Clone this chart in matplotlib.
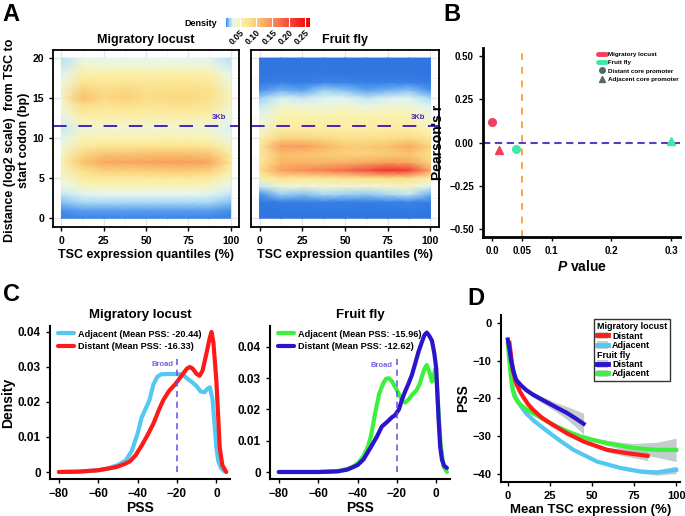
import numpy as np
import matplotlib
matplotlib.use('Agg')
import matplotlib.pyplot as plt
from matplotlib.colors import LinearSegmentedColormap, Normalize
from matplotlib.lines import Line2D
from matplotlib.patches import Patch

plt.rcParams['font.family'] = ['Liberation Sans', 'DejaVu Sans']
plt.rcParams['font.weight'] = 'bold'
plt.rcParams['axes.labelweight'] = 'bold'
plt.rcParams['axes.titleweight'] = 'bold'
plt.rcParams['mathtext.fontset'] = 'custom'
plt.rcParams['mathtext.bfit'] = 'Liberation Sans:bold:italic'
plt.rcParams['mathtext.rm'] = 'Liberation Sans:bold'

# ---------------- data ----------------
# panel A: density grid, rows = log2 distance 0..20, cols = expression quantile
heat_x = [0, 12.5, 25, 37.5, 50, 62.5, 75, 87.5, 100]
heat_y = list(range(21))

locust_density = [
    [0.006, 0.008, 0.008, 0.008, 0.008, 0.008, 0.008, 0.008, 0.006],
    [0.010, 0.012, 0.012, 0.012, 0.012, 0.012, 0.012, 0.012, 0.010],
    [0.016, 0.020, 0.020, 0.020, 0.020, 0.020, 0.020, 0.020, 0.016],
    [0.024, 0.030, 0.031, 0.031, 0.031, 0.031, 0.031, 0.030, 0.024],
    [0.032, 0.045, 0.047, 0.047, 0.047, 0.047, 0.047, 0.045, 0.032],
    [0.040, 0.060, 0.065, 0.065, 0.066, 0.066, 0.066, 0.062, 0.042],
    [0.045, 0.080, 0.095, 0.095, 0.098, 0.100, 0.100, 0.095, 0.055],
    [0.050, 0.105, 0.128, 0.130, 0.132, 0.135, 0.136, 0.130, 0.070],
    [0.045, 0.090, 0.105, 0.105, 0.108, 0.110, 0.110, 0.105, 0.060],
    [0.038, 0.065, 0.072, 0.072, 0.073, 0.074, 0.074, 0.070, 0.045],
    [0.030, 0.048, 0.050, 0.050, 0.050, 0.050, 0.050, 0.048, 0.034],
    [0.025, 0.040, 0.040, 0.040, 0.040, 0.040, 0.040, 0.038, 0.028],
    [0.028, 0.046, 0.045, 0.045, 0.045, 0.045, 0.045, 0.043, 0.030],
    [0.035, 0.062, 0.058, 0.060, 0.058, 0.060, 0.060, 0.056, 0.036],
    [0.040, 0.080, 0.072, 0.076, 0.072, 0.074, 0.075, 0.070, 0.042],
    [0.045, 0.108, 0.085, 0.095, 0.082, 0.085, 0.086, 0.080, 0.046],
    [0.042, 0.095, 0.082, 0.088, 0.080, 0.082, 0.082, 0.078, 0.044],
    [0.036, 0.072, 0.068, 0.070, 0.068, 0.070, 0.070, 0.066, 0.038],
    [0.030, 0.055, 0.054, 0.055, 0.054, 0.055, 0.055, 0.052, 0.032],
    [0.025, 0.042, 0.040, 0.040, 0.040, 0.040, 0.040, 0.038, 0.026],
    [0.022, 0.034, 0.032, 0.032, 0.032, 0.032, 0.032, 0.030, 0.022],
]

fly_density = [
    [0.003, 0.003, 0.003, 0.003, 0.003, 0.003, 0.003, 0.003, 0.003],
    [0.003, 0.004, 0.004, 0.004, 0.005, 0.004, 0.004, 0.005, 0.004],
    [0.004, 0.006, 0.006, 0.007, 0.006, 0.006, 0.007, 0.008, 0.006],
    [0.010, 0.018, 0.016, 0.020, 0.018, 0.017, 0.020, 0.024, 0.014],
    [0.025, 0.040, 0.038, 0.040, 0.040, 0.040, 0.042, 0.045, 0.030],
    [0.050, 0.075, 0.070, 0.072, 0.075, 0.078, 0.080, 0.080, 0.055],
    [0.080, 0.135, 0.150, 0.160, 0.175, 0.195, 0.220, 0.210, 0.130],
    [0.065, 0.115, 0.120, 0.118, 0.120, 0.125, 0.135, 0.130, 0.090],
    [0.060, 0.110, 0.105, 0.100, 0.095, 0.095, 0.098, 0.105, 0.080],
    [0.065, 0.135, 0.138, 0.120, 0.100, 0.100, 0.108, 0.128, 0.090],
    [0.050, 0.090, 0.090, 0.085, 0.078, 0.078, 0.080, 0.085, 0.065],
    [0.040, 0.065, 0.065, 0.062, 0.060, 0.060, 0.062, 0.062, 0.050],
    [0.035, 0.055, 0.055, 0.056, 0.055, 0.055, 0.056, 0.055, 0.042],
    [0.030, 0.050, 0.050, 0.048, 0.050, 0.048, 0.050, 0.048, 0.036],
    [0.025, 0.040, 0.038, 0.036, 0.040, 0.036, 0.040, 0.038, 0.030],
    [0.018, 0.028, 0.025, 0.030, 0.030, 0.024, 0.028, 0.030, 0.020],
    [0.010, 0.014, 0.012, 0.018, 0.016, 0.012, 0.014, 0.016, 0.010],
    [0.005, 0.007, 0.006, 0.008, 0.008, 0.006, 0.007, 0.007, 0.005],
    [0.003, 0.004, 0.004, 0.005, 0.004, 0.004, 0.004, 0.004, 0.003],
    [0.003, 0.003, 0.003, 0.003, 0.003, 0.003, 0.003, 0.003, 0.003],
    [0.003, 0.003, 0.003, 0.003, 0.003, 0.003, 0.003, 0.003, 0.003],
]

# panel B: correlation vs p value
b_p = [0.0, 0.0117, 0.0405, 0.300]
b_r = [0.118, -0.043, -0.039, 0.010]
b_species = ["Migratory locust", "Migratory locust", "Fruit fly", "Fruit fly"]
b_promoter = ["Distant", "Adjacent", "Distant", "Adjacent"]

# panel C: PSS density curves
loc_adj_x = [-80, -70, -60, -55, -50, -46, -43, -40, -38, -36, -34, -32, -30, -28, -24, -20,
             -17, -15, -12, -10, -8, -6, -4.5, -3.3, -2, -1, 0, 1, 2.5, 4]
loc_adj_y = [0, 0.0001, 0.0005, 0.001, 0.002, 0.0033, 0.006, 0.011, 0.0155, 0.018, 0.0205,
             0.025, 0.0272, 0.0279, 0.028, 0.028, 0.0278, 0.0268, 0.0255, 0.0245, 0.023,
             0.0228, 0.0238, 0.0242, 0.021, 0.014, 0.007, 0.003, 0.001, 0.0002]
loc_dist_x = [-80, -70, -60, -55, -51, -47, -44, -41, -38, -35, -32, -29, -27, -24, -21, -19,
              -17, -15, -13.5, -12, -10, -8.5, -7, -5, -3.5, -2.5, -1.5, 0, 1, 1.7, 3, 5]
loc_dist_y = [0, 0.0001, 0.0005, 0.001, 0.0014, 0.0022, 0.003, 0.0048, 0.0075, 0.0105,
              0.0138, 0.018, 0.0205, 0.0232, 0.025, 0.0265, 0.028, 0.0295, 0.030, 0.0295,
              0.028, 0.0275, 0.029, 0.034, 0.038, 0.040, 0.037, 0.026, 0.015, 0.007, 0.002, 0]
fly_adj_x = [-80, -60, -50, -45, -42, -39.7, -37, -34.6, -33, -31, -29, -27, -25.5, -24,
             -22.5, -21, -19, -17.5, -15.8, -14, -12.4, -10, -8.5, -7.3, -6, -4.8, -3.5,
             -2.2, -1.2, -0.5, 0.3, 1.2, 2.2, 3.7, 5.4]
fly_adj_y = [0, 0, 0.0003, 0.001, 0.0018, 0.0029, 0.005, 0.0082, 0.012, 0.019, 0.025,
             0.0283, 0.0298, 0.030, 0.029, 0.0273, 0.025, 0.023, 0.0222, 0.0232, 0.0246,
             0.0262, 0.028, 0.0305, 0.033, 0.0342, 0.032, 0.0289, 0.031, 0.033, 0.028,
             0.0188, 0.009, 0.0018, 0]
fly_dist_x = [-80, -60, -50, -45, -40, -37, -33, -30, -27.7, -25, -22.5, -20.9, -19, -17.5,
              -15.8, -14.1, -12.4, -10.7, -9, -7.3, -6, -4.8, -3.5, -2.2, -1, 0, 0.5, 1.2,
              2, 2.9, 4, 5.4]
fly_dist_y = [0, 0, 0.0002, 0.0008, 0.0022, 0.004, 0.0082, 0.0115, 0.0145, 0.016, 0.0175,
              0.0182, 0.020, 0.023, 0.0258, 0.0283, 0.031, 0.0347, 0.0385, 0.0416, 0.0438,
              0.0446, 0.0435, 0.042, 0.038, 0.033, 0.026, 0.0167, 0.008, 0.0039, 0.002, 0.0013]
loc_adj_mean, loc_dist_mean = -20.44, -16.33
fly_adj_mean, fly_dist_mean = -15.96, -12.62

# panel D: smoothed PSS vs mean expression, with CI half widths
d_loc_dist_x = [1, 2, 3, 5, 7, 9, 12, 15, 20, 25, 35, 45, 59, 71, 83]
d_loc_dist_y = [-5.3, -9, -12.5, -16, -18, -19.5, -21.5, -23, -25, -26.5, -29.2, -31.4,
                -33.6, -34.5, -35.2]
d_loc_dist_ci = [0.5, 0.4, 0.4, 0.3, 0.3, 0.3, 0.3, 0.3, 0.3, 0.3, 0.3, 0.4, 0.6, 0.9, 1.2]
d_loc_adj_x = [0.5, 1.5, 3, 5, 8, 11, 15, 20, 25, 32, 39, 53, 67, 78.5, 88.5, 100]
d_loc_adj_y = [-5.5, -11, -17.8, -20, -22.2, -24, -25.7, -27.5, -29.2, -31.5, -33.6, -36.7,
               -38.4, -39.3, -39.6, -38.9]
d_loc_adj_ci = [0.5, 0.4, 0.3, 0.3, 0.3, 0.3, 0.3, 0.3, 0.3, 0.3, 0.3, 0.3, 0.4, 0.5, 0.7, 1.0]
d_fly_dist_x = [0, 1, 2, 3.5, 5, 8, 11, 15, 19, 24, 29, 35, 40, 45]
d_fly_dist_y = [-4.4, -7, -10, -13, -15.1, -16.6, -17.8, -19, -20, -21.2, -22.4, -23.8,
                -25.2, -26.7]
d_fly_dist_ci = [0.5, 0.5, 0.5, 0.5, 0.5, 0.5, 0.6, 0.7, 0.8, 1.0, 1.2, 1.7, 2.2, 2.8]
d_fly_adj_x = [0, 1, 2, 3, 4, 6, 9, 13, 17, 23, 29, 36, 43, 51, 59, 67, 74.5, 88.5, 100]
d_fly_adj_y = [-5.5, -10.5, -15, -17.8, -19.5, -21, -22.2, -23.4, -24.4, -26, -27.4, -28.8,
               -30, -31, -31.8, -32.5, -33.1, -33.6, -33.6]
d_fly_adj_ci = [0.6, 0.5, 0.4, 0.4, 0.4, 0.3, 0.3, 0.3, 0.3, 0.3, 0.3, 0.3, 0.4, 0.5, 0.7,
                0.9, 1.2, 2.0, 3.1]

# ---------------- styling ----------------
RED = '#ff1a1a'
CYAN = '#55c8f2'
BLUE = '#2a14cc'
GREEN = '#3ef03e'
B_RED = '#f2405a'
B_MINT = '#3ee8a6'
B_GRAY = '#55666b'
DASH_PURPLE = '#4b22b8'

cmap = LinearSegmentedColormap.from_list('dens', [
    (0.0, '#2c6fdc'), (0.008 / 0.265, '#3a86ea'), (0.018 / 0.265, '#9fd4f4'),
    (0.03 / 0.265, '#e6f7f2'), (0.05 / 0.265, '#fbf2ae'), (0.08 / 0.265, '#fbe08a'),
    (0.11 / 0.265, '#f9bf6c'), (0.15 / 0.265, '#f78f55'), (0.20 / 0.265, '#f24a3c'),
    (1.0, '#ee0000')])
norm = Normalize(vmin=0, vmax=0.265)

fig = plt.figure(figsize=(6.85, 5.16), dpi=100)


def style_simple(ax, lw=1.5):
    for s in ['top', 'right']:
        ax.spines[s].set_visible(False)
    for s in ['left', 'bottom']:
        ax.spines[s].set_linewidth(lw)
    ax.tick_params(width=1, length=3)


# ---------------- panel A ----------------
axA1 = fig.add_axes([0.0774, 0.560, 0.2715, 0.343])
axA2 = fig.add_axes([0.3664, 0.560, 0.2745, 0.343])
for ax, dens, title in [(axA1, locust_density, "Migratory locust"),
                        (axA2, fly_density, "Fruit fly")]:
    ax.set_axisbelow(True)
    ax.set_xticks([0, 25, 50, 75, 100])
    ax.set_xticks([12.5, 37.5, 62.5, 87.5], minor=True)
    ax.set_yticks([0, 5, 10, 15, 20])
    ax.set_yticks([2.5, 7.5, 12.5, 17.5], minor=True)
    ax.grid(True, which='major', color='#e6e6e6', lw=0.9)
    ax.grid(True, which='minor', color='#f0f0f0', lw=0.5)
    mesh = ax.pcolormesh(heat_x, heat_y, np.array(dens), shading='gouraud', cmap=cmap, norm=norm)
    ax.axhline(np.log2(3000), color=DASH_PURPLE, lw=1.4, dashes=(7, 6))
    ax.text(93, 12.1, "3Kb", color=DASH_PURPLE, fontsize=5.5, ha='center', va='bottom')
    ax.set_xlim(-5, 105)
    ax.set_ylim(-1.1, 21)
    for s in ax.spines.values():
        s.set_linewidth(1.3)
    ax.tick_params(which='major', width=1, length=3, labelsize=7.5)
    ax.tick_params(which='minor', length=0)
    ax.set_title(title, fontsize=9, pad=5)
    ax.set_xlabel("TSC expression quantiles (%)", fontsize=9, labelpad=2)
axA2.set_yticklabels([])
axA2.tick_params(axis='y', length=0)
axA1.set_ylabel("Distance (log2 scale)  from TSC to\nstart codon (bp)", fontsize=9)
axA1.yaxis.set_label_coords(-0.125, 0.49)

cax = fig.add_axes([0.330, 0.9477, 0.1226, 0.0174])
cbar = fig.colorbar(mesh, cax=cax, orientation='horizontal',
                    boundaries=np.linspace(0.008, 0.265, 200))
cbar.outline.set_visible(False)
cbar.set_ticks([0.05, 0.10, 0.15, 0.20, 0.25])
cbar.set_ticklabels(["0.05", "0.10", "0.15", "0.20", "0.25"])
cax.tick_params(direction='in', color='white', length=9, width=0.8, labelsize=6.3, pad=1)
for lab in cax.get_xticklabels():
    lab.set_rotation(45)
    lab.set_ha('right')
    lab.set_va('top')
    lab.set_rotation_mode('anchor')
fig.text(217 / 685, 1 - 23 / 516, "Density", fontsize=6.5, ha='right', va='center')

# ---------------- panel B ----------------
axB = fig.add_axes([0.705, 0.5407, 0.288, 0.366])
style_simple(axB, lw=2)
axB.axvline(0.05, color='#f5a845', lw=1.4, dashes=(3.5, 3.5), zorder=1)
axB.axhline(0, color='#5a3cc0', lw=1.5, dashes=(3.5, 2.2), zorder=1)
for p, r, sp, pr in zip(b_p, b_r, b_species, b_promoter):
    col = B_RED if sp == "Migratory locust" else B_MINT
    mk = 'o' if pr == "Distant" else '^'
    axB.plot(p, r, marker=mk, color=col, ms=5.5, ls='none', zorder=3)
axB.set_xlim(-0.015, 0.315)
axB.set_ylim(-0.546, 0.546)
axB.set_xticks([0.0, 0.05, 0.1, 0.2, 0.3])
axB.set_xticklabels(["0.0", "0.05", "0.1", "0.2", "0.3"])
axB.set_yticks([-0.5, -0.25, 0, 0.25, 0.5])
axB.set_yticklabels(["\u22120.50", "\u22120.25", "0.00", "0.25", "0.50"])
axB.tick_params(labelsize=7)
axB.set_xlabel("$\\mathbfit{P}$ value", fontsize=10, labelpad=2)
axB.set_ylabel("Pearson's r", fontsize=10, labelpad=3)
b_handles = [Line2D([], [], color=B_RED, lw=3.5, solid_capstyle='round'),
             Line2D([], [], color=B_MINT, lw=3.5, solid_capstyle='round'),
             Line2D([], [], color=B_GRAY, marker='o', ls='none', ms=4),
             Line2D([], [], color=B_GRAY, marker='^', ls='none', ms=4)]
axB.legend(b_handles, ["Migratory locust", "Fruit fly", "Distant core promoter",
                       "Adjacent core promoter"],
           loc='upper left', bbox_to_anchor=(0.565, 1.0), fontsize=4.5, frameon=False,
           handlelength=1.3, handletextpad=0.3, labelspacing=0.45, borderaxespad=0.2)

# ---------------- panel C ----------------
axC1 = fig.add_axes([0.073, 0.0717, 0.263, 0.2965])
axC2 = fig.add_axes([0.394, 0.0717, 0.263, 0.2965])
for ax, xa, ya, xd, yd, ca, cd, ma, md, title, top, broad_y, ylim in [
        (axC1, loc_adj_x, loc_adj_y, loc_dist_x, loc_dist_y, CYAN, RED,
         loc_adj_mean, loc_dist_mean, "Migratory locust", 0.0325, 0.0306, (-0.002, 0.0417)),
        (axC2, fly_adj_x, fly_adj_y, fly_dist_x, fly_dist_y, GREEN, BLUE,
         fly_adj_mean, fly_dist_mean, "Fruit fly", 0.0363, 0.0342, (-0.00224, 0.0467))]:
    style_simple(ax, lw=1.5)
    ax.plot(xa, ya, color=ca, lw=3, solid_capstyle='round',
            label=f"Adjacent (Mean PSS: {ma:.2f})")
    ax.plot(xd, yd, color=cd, lw=3, solid_capstyle='round',
            label=f"Distant (Mean PSS: {md:.2f})")
    ax.plot([-20, -20], [0, top], color='#6a4be0', lw=1.1, dashes=(4, 3))
    ax.text(-22, broad_y, "Broad", color='#7b5be6', fontsize=5.5, ha='right', va='center')
    ax.set_xlim(-84.5, 7)
    ax.set_ylim(*ylim)
    ax.set_xticks([-80, -60, -40, -20, 0])
    ax.set_xticklabels(["\u221280", "\u221260", "\u221240", "\u221220", "0"])
    ax.set_yticks([0, 0.01, 0.02, 0.03, 0.04])
    ax.set_yticklabels(["0", "0.01", "0.02", "0.03", "0.04"])
    ax.tick_params(labelsize=8.5)
    ax.set_xlabel("PSS", fontsize=10, labelpad=1)
    ax.set_title(title, fontsize=9.5, pad=6)
    ax.legend(loc='upper left', bbox_to_anchor=(0.0, 1.03), fontsize=6.6, frameon=False,
              handlelength=1.7, handletextpad=0.45, labelspacing=0.35)
axC1.set_ylabel("Density", fontsize=10, labelpad=2)

# ---------------- panel D ----------------
axD = fig.add_axes([0.731, 0.066, 0.261, 0.3236])
style_simple(axD, lw=1.5)
for xs, ys, ci, col in [(d_loc_dist_x, d_loc_dist_y, d_loc_dist_ci, RED),
                        (d_loc_adj_x, d_loc_adj_y, d_loc_adj_ci, CYAN),
                        (d_fly_dist_x, d_fly_dist_y, d_fly_dist_ci, BLUE),
                        (d_fly_adj_x, d_fly_adj_y, d_fly_adj_ci, GREEN)]:
    xs, ys, ci = np.array(xs), np.array(ys), np.array(ci)
    axD.fill_between(xs, ys - ci, ys + ci, color='#a9b9b9', alpha=0.7, lw=0, zorder=1)
for xs, ys, col in [(d_loc_adj_x, d_loc_adj_y, CYAN), (d_fly_adj_x, d_fly_adj_y, GREEN),
                    (d_loc_dist_x, d_loc_dist_y, RED), (d_fly_dist_x, d_fly_dist_y, BLUE)]:
    axD.plot(xs, ys, color=col, lw=3, zorder=2)
axD.set_xlim(-4.2, 102)
axD.set_ylim(-42.1, 2.1)
axD.set_xticks([0, 25, 50, 75, 100])
axD.set_yticks([0, -10, -20, -30, -40])
axD.set_yticklabels(["0", "\u221210", "\u221220", "\u221230", "\u221240"])
axD.tick_params(labelsize=8)
axD.set_xlabel("Mean TSC expression (%)", fontsize=9.5, labelpad=2)
axD.set_ylabel("PSS", fontsize=10, labelpad=2)

gray_key = '#c6d0d0'
d_handles = [Patch(visible=False),
             (Patch(facecolor=gray_key, edgecolor='none'), Line2D([], [], color=RED, lw=3.5)),
             (Patch(facecolor=gray_key, edgecolor='none'), Line2D([], [], color=CYAN, lw=3.5)),
             Patch(visible=False),
             (Patch(facecolor=gray_key, edgecolor='none'), Line2D([], [], color=BLUE, lw=3.5)),
             (Patch(facecolor=gray_key, edgecolor='none'), Line2D([], [], color=GREEN, lw=3.5))]
d_labels = ["Migratory locust", "Distant", "Adjacent", "Fruit fly", "Distant", "Adjacent"]
legD = axD.legend(d_handles, d_labels, loc='upper right', bbox_to_anchor=(0.97, 1.0),
                  fontsize=6.5, frameon=True, fancybox=False, edgecolor='black',
                  handlelength=1.3, handleheight=0.9, handletextpad=0.4, labelspacing=0.05,
                  borderpad=0.3)
legD.get_frame().set_linewidth(1.0)
rows = legD._legend_handle_box.get_children()[0].get_children()
for i in (0, 3):
    rows[i].get_children()[0].set_width(0)
    rows[i].sep = 0

# panel letters
fig.text(0.004, 0.995, "A", fontsize=17, va='top', ha='left')
fig.text(443 / 685, 0.995, "B", fontsize=17, va='top', ha='left')
fig.text(0.004, 1 - 283 / 516, "C", fontsize=17, va='top', ha='left')
fig.text(467 / 685, 1 - 287 / 516, "D", fontsize=17, va='top', ha='left')

fig.savefig("out.png", dpi=100)
